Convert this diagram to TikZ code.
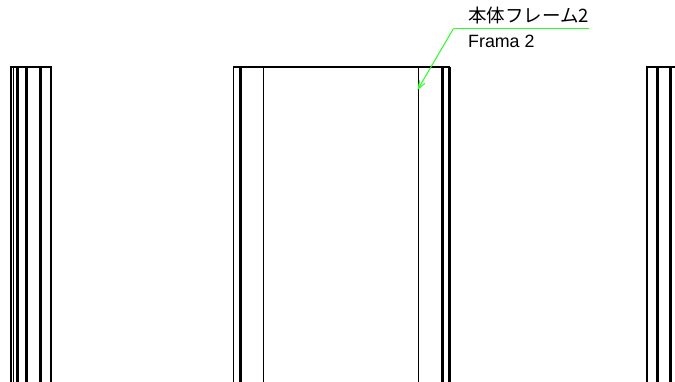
\documentclass[tikz,border=0pt]{standalone}
\usepackage{fontspec}
\setmainfont{Liberation Sans}
\newfontfamily\cjk{Noto Sans CJK JP}
\usetikzlibrary{arrows.meta}
\tikzset{
	frameline/.style={line width=1.3pt, black},
	heavyline/.style={line width=3pt, black},
	leader/.style={line width=1pt, green!85!white},
	callout/.style={anchor=west, inner sep=0pt, text=black}
}
\begin{document}
\begin{tikzpicture}[x=1pt, y=-1pt]
	\useasboundingbox (0, 0) rectangle (675, 382);
	% Rahmen links
	\draw[frameline] (51, 382) -- (51, 67) -- (11, 67) -- (11, 382);
	\draw[frameline] (13.5, 67) -- (13.5, 382);
	\foreach \x in {17, 26.5, 40}
		\draw[heavyline] (\x, 67) -- (\x, 382);
	% Rahmen Mitte
	\draw[frameline] (233.5, 382) -- (233.5, 67) -- (449.5, 67) -- (449.5, 382);
	\foreach \x in {263.5, 418.5}
		\draw[frameline] (\x, 67) -- (\x, 382);
	\foreach \x in {240.5, 442.5, 449}
		\draw[heavyline] (\x, 67) -- (\x, 382);
	% Rahmen rechts
	\draw[frameline] (675, 67) -- (647, 67) -- (647, 382);
	\draw[heavyline] (657.5, 67) -- (657.5, 382);
	\draw[heavyline] (670, 67) -- (670, 382);
	% Beschriftung
	\node[callout, font=\cjk\fontsize{18.5}{20}\selectfont] (namejp) at (468, 15.5) {本体フレーム2};
	\node[callout, font=\fontsize{17.8}{20}\selectfont] (nameen) at (468, 41) {Frama 2};
	\coordinate (elbow) at (453.5, 28.5);
	\coordinate (leaderend) at (589, 28.5);
	\coordinate (tip) at (417.5, 90);
	\draw[leader] (leaderend) -- (elbow);
	\draw[leader, -{Straight Barb[length=8pt, width=6pt]}] (elbow) -- (tip);
\end{tikzpicture}
\end{document}
